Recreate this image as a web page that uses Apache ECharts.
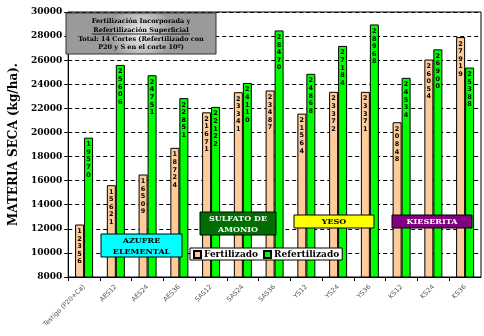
<!DOCTYPE html>
<html><head><meta charset="utf-8">
<script src="https://cdn.jsdelivr.net/npm/echarts@6/dist/echarts.min.js"></script>
<style>html,body{margin:0;padding:0;background:#fff}#c{width:484px;height:336px}</style>
</head><body><div id="c"></div>
<script>
const categories = ['Testigo (P20+Ca)','AES12','AES24','AES36','SAS12','SAS24','SAS36','YS12','YS24','YS36','KS12','KS24','KS36'];
const fertilizado = [12356,15621,16509,18724,21671,23341,23487,21564,23372,23371,20848,26054,27919];
const refertilizado = [19570,25606,24751,22851,22122,24110,28470,24868,27184,28968,24534,26900,25388];
const seriesNames = ['Fertilizado','Refertilizado'];
const yTitle = 'MATERIA SECA (kg/ha).';
const titleLines = ['Fertilización Incorporada y','Refertilización Superficial','Total: 14 Cortes (Refertilizado con','P20 y S en el corte 10º)'];

const SERIF = '"DejaVu Serif", serif';
const chart = echarts.init(document.getElementById('c'));
const digitLabel = {
  show: true, position: 'insideTop', distance: 3,
  formatter: p => String(p.value).split('').join('\n'),
  fontSize: 6.5, lineHeight: 7.6, fontWeight: 'bold', color: '#000',
  fontFamily: '"DejaVu Sans", sans-serif'
};
function txt(x, y, s, color, fs) {
  return {type: 'text', x: x, y: y, z: 101,
    style: {text: s, fill: color, fontSize: fs, fontWeight: 'bold', fontFamily: SERIF, align: 'center', verticalAlign: 'middle', lineHeight: fs + 3}};
}
function box(x, y, w, h, fill, color, lines, fs) {
  return [
    {type: 'rect', z: 100, shape: {x: x, y: y, width: w, height: h}, style: {fill: fill, stroke: '#000', lineWidth: 1}},
    txt(x + w / 2, y + h / 2 + 0.5, lines, color, fs)
  ];
}
chart.setOption({
  animation: false,
  grid: {left: 62, right: 3, top: 12, bottom: 59, show: true, borderColor: '#000', borderWidth: 1, containLabel: false},
  legend: {
    data: seriesNames, left: 190, top: 248, icon: 'rect', itemWidth: 7, itemHeight: 7, itemGap: 5,
    backgroundColor: '#fff', borderColor: '#000', borderWidth: 1, padding: [2, 3, 1, 3], z: 120,
    textStyle: {fontFamily: SERIF, fontWeight: 'bold', fontSize: 9, color: '#000', padding: [0, 0, 0, -2]}
  },
  xAxis: {
    type: 'category', data: categories,
    axisLine: {lineStyle: {color: '#000', width: 1}},
    axisTick: {show: true, length: 4, lineStyle: {color: '#000'}},
    axisLabel: {rotate: 45, interval: 0, fontSize: 6.5, color: '#555', margin: 9, fontFamily: '"DejaVu Sans", sans-serif'}
  },
  yAxis: {
    type: 'value', min: 8000, max: 30000, interval: 2000,
    name: yTitle, nameLocation: 'middle', nameGap: 44,
    nameTextStyle: {fontFamily: SERIF, fontWeight: 'bold', fontSize: 12, color: '#000'},
    axisLine: {show: true, lineStyle: {color: '#000', width: 1}},
    axisTick: {show: true, length: 4, lineStyle: {color: '#000'}},
    axisLabel: {fontFamily: SERIF, fontWeight: 'bold', fontSize: 9, color: '#000', margin: 6, formatter: v => String(v)},
    splitLine: {show: true, lineStyle: {color: '#000', type: [4, 3], width: 1}}
  },
  series: [
    {name: seriesNames[0], type: 'bar', data: fertilizado, barWidth: 9, barGap: '0%',
     itemStyle: {color: '#FFCC99', borderColor: '#000', borderWidth: 1}, label: digitLabel},
    {name: seriesNames[1], type: 'bar', data: refertilizado, barWidth: 9, barGap: '0%',
     itemStyle: {color: '#00FF00', borderColor: '#000', borderWidth: 1}, label: digitLabel}
  ],
  graphic: [
    {type: 'rect', z: 100, shape: {x: 66, y: 13, width: 150, height: 41},
     style: {fill: new echarts.graphic.RadialGradient(0.5, 0.5, 0.75, [{offset: 0, color: '#f0f0f0'}, {offset: 1, color: '#9a9a9a'}]), stroke: '#333', lineWidth: 1}},
    txt(141, 21.5, titleLines[0], '#000', 6.5),
    txt(141, 30, titleLines[1], '#000', 6.5),
    {type: 'line', z: 101, shape: {x1: 92, y1: 34, x2: 190, y2: 34}, style: {stroke: '#000', lineWidth: 0.8}},
    txt(141, 39, titleLines[2], '#000', 6.5),
    txt(141, 47.5, titleLines[3], '#000', 6.5),
    ...box(101, 234, 81, 23, '#00FFFF', '#000', 'AZUFRE\nELEMENTAL', 8),
    ...box(200, 212, 76, 23, '#006E00', '#fff', 'SULFATO DE\nAMONIO', 8),
    ...box(294, 215, 80, 13, '#FFFF00', '#000', 'YESO', 8),
    ...box(392, 215, 80, 13, '#800080', '#fff', 'KIESERITA', 8)
  ]
});
</script></body></html>
